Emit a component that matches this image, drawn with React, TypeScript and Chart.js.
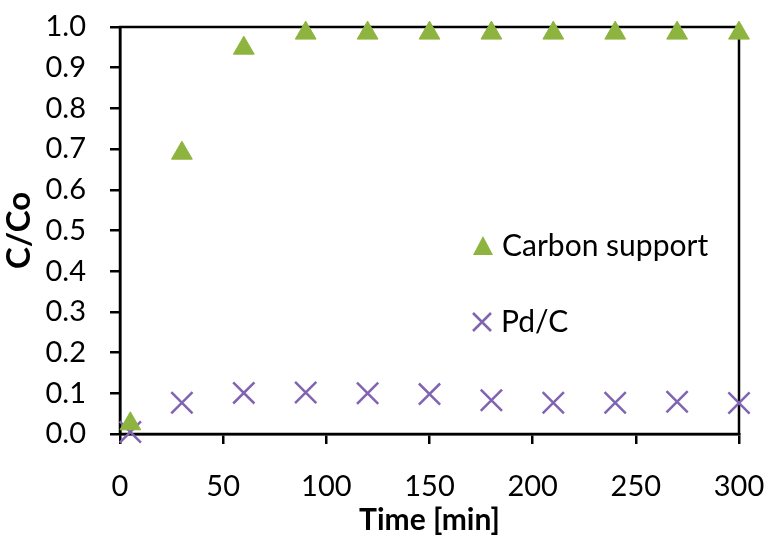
import React, { useEffect, useRef } from "react";
import { Chart, registerables } from "chart.js";

Chart.register(...registerables);

const times = [5, 30, 60, 90, 120, 150, 180, 210, 240, 270, 300];
const carbonSupport = [0.025, 0.69, 0.948, 0.985, 0.985, 0.985, 0.985, 0.985, 0.985, 0.985, 0.985];
const pdC = [0.005, 0.077, 0.101, 0.102, 0.1, 0.098, 0.083, 0.077, 0.077, 0.079, 0.076];
const seriesNames = ["Carbon support", "Pd/C"];
const xTitle = "Time [min]";
const yTitle = "C/Co";

const GREEN = "rgb(141,180,62)";
const PURPLE = "rgb(128,100,178)";
const FONT = "Lato, 'Open Sans', sans-serif";

const framePlugin = {
  id: "frame",
  beforeDatasetsDraw(chart: any) {
    const { ctx, chartArea } = chart;
    ctx.save();
    ctx.strokeStyle = "#000";
    ctx.lineWidth = 2.5;
    ctx.strokeRect(chartArea.left, chartArea.top, chartArea.right - chartArea.left, chartArea.bottom - chartArea.top);
    ctx.restore();
  },
};

const legendPlugin = {
  id: "insideLegend",
  afterDatasetsDraw(chart: any) {
    const { ctx } = chart;
    const items = [
      { text: seriesNames[0], style: "triangle", color: GREEN, x: 483, y: 246 },
      { text: seriesNames[1], style: "crossRot", color: PURPLE, x: 482, y: 322 },
    ];
    ctx.save();
    items.forEach((it) => {
      if (it.style === "triangle") {
        ctx.fillStyle = it.color;
        ctx.beginPath();
        ctx.moveTo(it.x, it.y - 10);
        ctx.lineTo(it.x + 10, it.y + 9);
        ctx.lineTo(it.x - 10, it.y + 9);
        ctx.closePath();
        ctx.fill();
      } else {
        ctx.strokeStyle = it.color;
        ctx.lineWidth = 2.5;
        ctx.beginPath();
        ctx.moveTo(it.x - 9, it.y - 9);
        ctx.lineTo(it.x + 9, it.y + 9);
        ctx.moveTo(it.x + 9, it.y - 9);
        ctx.lineTo(it.x - 9, it.y + 9);
        ctx.stroke();
      }
      ctx.fillStyle = "#000";
      ctx.font = `30px ${FONT}`;
      ctx.textBaseline = "middle";
      ctx.textAlign = "left";
      ctx.fillText(it.text, it.x + 19, it.y);
    });
    ctx.restore();
  },
};

export default function App() {
  const ref = useRef<HTMLCanvasElement>(null);
  useEffect(() => {
    if (!ref.current) return;
    const chart = new Chart(ref.current, {
      type: "scatter",
      data: {
        datasets: [
          {
            label: seriesNames[0],
            data: times.map((t, i) => ({ x: t, y: carbonSupport[i] })),
            pointStyle: "triangle",
            radius: 12,
            backgroundColor: GREEN,
            borderColor: GREEN,
            borderWidth: 1,
            clip: false,
          } as any,
          {
            label: seriesNames[1],
            data: times.map((t, i) => ({ x: t, y: pdC[i] })),
            pointStyle: "crossRot",
            radius: 15,
            backgroundColor: PURPLE,
            borderColor: PURPLE,
            borderWidth: 2.5,
            clip: false,
          } as any,
        ],
      },
      options: {
        animation: false,
        responsive: false,
        events: [],
        layout: { padding: { top: 27, right: 26, left: 0, bottom: 0 } },
        plugins: { legend: { display: false }, tooltip: { enabled: false } },
        scales: {
          x: {
            type: "linear",
            min: 0,
            max: 300,
            ticks: { stepSize: 50, color: "#000", font: { family: FONT, size: 29 }, padding: 25, maxRotation: 0 },
            grid: { drawOnChartArea: false, drawTicks: true, tickLength: 10, color: "#000", lineWidth: 2.5 },
            border: { display: true, color: "#000", width: 2.5 },
            title: { display: true, text: xTitle, color: "#000", font: { family: FONT, size: 30, weight: "bold" }, padding: { top: 0, bottom: 0 } },
            afterFit: (s: any) => { s.height = 538 - 434; s.paddingLeft = 0; s.paddingRight = 0; },
          },
          y: {
            type: "linear",
            min: 0,
            max: 1,
            ticks: { stepSize: 0.1, color: "#000", font: { family: FONT, size: 29 }, padding: 24, callback: (v: any) => Number(v).toFixed(1) },
            grid: { drawOnChartArea: false, drawTicks: true, tickLength: 10, color: "#000", lineWidth: 2.5 },
            border: { display: true, color: "#000", width: 2.5 },
            title: { display: true, text: yTitle, color: "#000", font: { family: FONT, size: 33, weight: "bold" }, padding: { top: 0, bottom: 0 } },
            afterFit: (s: any) => { s.width = 120; s.paddingTop = 0; s.paddingBottom = 0; },
          },
        },
      },
      plugins: [framePlugin, legendPlugin],
    });
    return () => chart.destroy();
  }, []);
  return (
    <div style={{ position: "absolute", left: 0, top: 0, width: 765, height: 538, background: "#fff" }}>
      <canvas ref={ref} width={765} height={538} />
    </div>
  );
}
